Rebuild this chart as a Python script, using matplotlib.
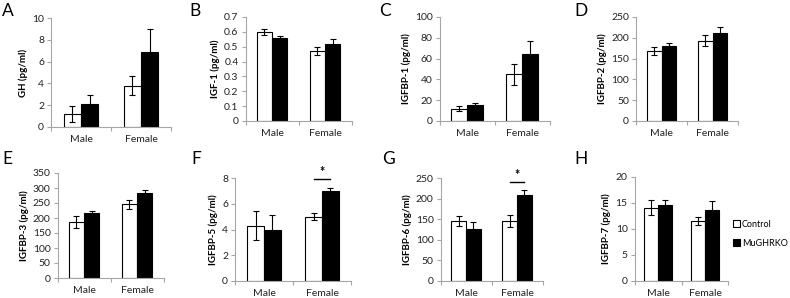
import matplotlib
matplotlib.use("Agg")
import matplotlib.pyplot as plt
from matplotlib.patches import Patch

plt.rcParams['font.family'] = ['Lato', 'DejaVu Sans']

categories = ["Male", "Female"]
series_names = ["Control", "MuGHRKO"]
panel_letters = ["A", "B", "C", "D", "E", "F", "G", "H"]
ylabels = ["GH (pg/ml)", "IGF-1 (pg/ml)", "IGFBP-1 (pg/ml)", "IGFBP-2 (pg/ml)",
           "IGFBP-3 (pg/ml)", "IGFBP-5 (pg/ml)", "IGFBP-6 (pg/ml)", "IGFBP-7 (pg/ml)"]

control_vals = [[1.2, 3.8], [0.60, 0.47], [12, 45], [169, 193],
                [186, 246], [4.3, 5.0], [145, 146], [14.1, 11.6]]
control_err = [[0.75, 0.9], [0.02, 0.025], [2, 10], [10, 13],
               [20, 15], [1.1, 0.3], [12, 14], [1.5, 0.8]]
ko_vals = [[2.1, 6.85], [0.56, 0.52], [15.5, 64], [180, 211],
           [217, 283], [4.0, 7.0], [127, 209], [14.7, 13.7]]
ko_err = [[0.8, 2.1], [0.01, 0.03], [2, 13], [8, 15],
          [7, 10], [1.1, 0.25], [17, 11], [0.8, 1.7]]

yticks = [[0, 2, 4, 6, 8, 10],
          [0, 0.1, 0.2, 0.3, 0.4, 0.5, 0.6, 0.7],
          [0, 20, 40, 60, 80, 100],
          [0, 50, 100, 150, 200, 250],
          [0, 50, 100, 150, 200, 250, 300, 350],
          [0, 2, 4, 6, 8],
          [0, 50, 100, 150, 200, 250],
          [0, 5, 10, 15, 20]]
significant = [None, None, None, None, None, 1, 1, None]  # category index with *

W, H = 790, 298
# pixel boxes: (left, right, top, bottom)
boxes = [(51, 171, 18, 127), (245.5, 351.5, 17, 121), (439.5, 549.5, 17, 121),
         (636, 738, 17, 121),
         (57.5, 163.5, 173, 278), (235, 351, 178, 281), (440.5, 542.5, 178, 281),
         (634.5, 728.5, 177, 281)]
letter_pos = [(2, 3), (189, 3), (379, 3), (574, 3), (2, 151), (191, 151), (382, 151), (574, 151)]

fig = plt.figure(figsize=(W / 100, H / 100), dpi=100)
gray = "#a6a6a6"
bw = 0.29

for i in range(8):
    l, r, t, b = boxes[i]
    ax = fig.add_axes([l / W, 1 - b / H, (r - l) / W, (b - t) / H])
    x = list(range(len(categories)))
    ax.bar([xi - bw / 2 for xi in x], control_vals[i], width=bw, color="white",
           edgecolor="black", linewidth=0.8, zorder=2)
    ax.bar([xi + bw / 2 for xi in x], ko_vals[i], width=bw, color="black",
           edgecolor="black", linewidth=0.8, zorder=2)
    ax.errorbar([xi - bw / 2 for xi in x], control_vals[i], yerr=control_err[i],
                fmt="none", ecolor="black", elinewidth=0.8, capsize=2.2, capthick=0.8, zorder=3)
    ax.errorbar([xi + bw / 2 for xi in x], ko_vals[i], yerr=ko_err[i],
                fmt="none", ecolor="black", elinewidth=0.8, capsize=2.2, capthick=0.8, zorder=3)
    ymax = yticks[i][-1]
    ax.set_ylim(0, ymax)
    ax.set_xlim(-0.5, len(categories) - 0.5)
    ax.set_yticks(yticks[i])
    ax.set_yticklabels([f"{v:g}" for v in yticks[i]], fontsize=7.5, color="#222222")
    ax.set_xticks([-0.5, 0.5, 1.5])
    ax.set_xticklabels([])
    ax.set_xticks(x, minor=True)
    ax.set_xticklabels(categories, minor=True, fontsize=7.5, color="#222222")
    ax.tick_params(axis="x", which="major", length=3, color=gray, width=0.8)
    ax.tick_params(axis="x", which="minor", length=0, pad=6)
    ax.tick_params(axis="y", length=3, color=gray, width=0.8, pad=2)
    for s in ["top", "right"]:
        ax.spines[s].set_visible(False)
    for s in ["left", "bottom"]:
        ax.spines[s].set_color(gray)
        ax.spines[s].set_linewidth(0.8)
    ax.set_ylabel(ylabels[i], fontsize=7, fontweight="bold", labelpad=3)
    if significant[i] is not None:
        c = significant[i]
        top = max(control_vals[i][c] + control_err[i][c], ko_vals[i][c] + ko_err[i][c])
        ys = top + 0.08 * ymax
        ax.plot([c - bw / 2, c + bw / 2], [ys, ys], color="black", lw=1.0, clip_on=False)
        ax.text(c, ys + 0.01 * ymax, "*", ha="center", va="bottom", fontsize=9,
                fontweight="bold", clip_on=False)
    lx, ly = letter_pos[i]
    fig.text(lx / W, 1 - ly / H, panel_letters[i], fontsize=12.5, va="top", ha="left")

handles = [Patch(facecolor="white", edgecolor="black", linewidth=0.8),
           Patch(facecolor="black", edgecolor="black", linewidth=0.8)]
fig.legend(handles, series_names, loc="upper left", bbox_to_anchor=(733 / W, 1 - 220 / H),
           frameon=False, fontsize=6.5, handlelength=0.8, handleheight=0.8,
           handletextpad=0.2, labelspacing=1.1, borderaxespad=0, borderpad=0)

fig.savefig("out.png", dpi=100)
